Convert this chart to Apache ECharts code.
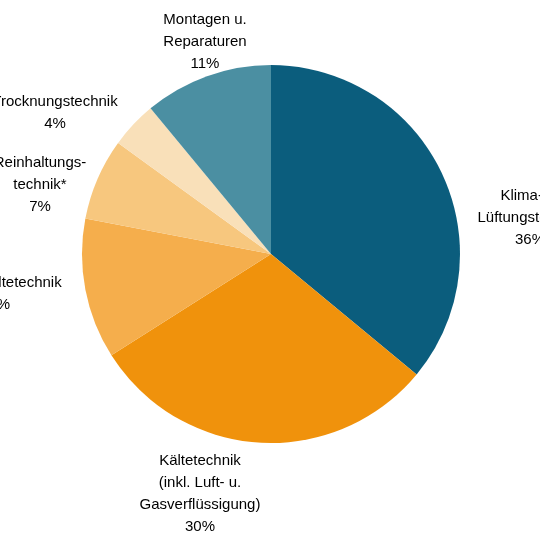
<!DOCTYPE html>
<html><head><meta charset="utf-8">
<script src="https://cdn.jsdelivr.net/npm/echarts@6/dist/echarts.min.js"></script>
<style>html,body{margin:0;padding:0;background:#fff}#c{width:540px;height:540px}</style>
</head><body><div id="c"></div>
<script>
const names = ['Klima- u.\nLüftungstechnik', 'Kältetechnik\n(inkl. Luft- u.\nGasverflüssigung)', 'Prozesskältetechnik',
  'Reinhaltungs-\ntechnik*', 'Trocknungstechnik', 'Montagen u.\nReparaturen'];
const values = [36, 30, 12, 7, 4, 11];
const colors = ['#0b5d7d', '#f0920c', '#f5ae4c', '#f7c77e', '#f9e0b9', '#4b8fa2'];
// label centres
const labelPos = [[530, 218], [200, 494], [-5, 294], [40, 185], [55, 113], [205, 42]];

let inst = echarts.init(document.getElementById('c'));
inst.setOption({
  animation: false,
  series: [{
    type: 'pie',
    center: [271, 254],
    radius: 189,
    startAngle: 90,
    clockwise: true,
    labelLine: { show: false },
    label: {
      position: 'outside',
      formatter: p => p.name + '\n' + p.value + '%',
      fontFamily: 'Liberation Sans, Arial, sans-serif',
      fontSize: 15,
      lineHeight: 22,
      color: '#000',
      align: 'center',
      overflow: 'none'
    },
    labelLayout: p => ({
      x: labelPos[p.dataIndex][0], y: labelPos[p.dataIndex][1],
      align: 'center', verticalAlign: 'middle', hideOverlap: false
    }),
    data: names.map((n, i) => ({ name: n, value: values[i], itemStyle: { color: colors[i] } }))
  }]
});
</script></body></html>
